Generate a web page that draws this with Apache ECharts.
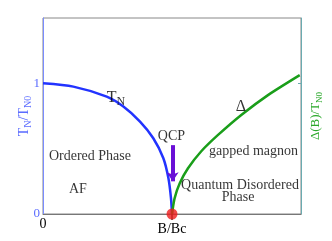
<!DOCTYPE html>
<html><head><meta charset="utf-8">
<script src="https://cdn.jsdelivr.net/npm/echarts@6/dist/echarts.min.js"></script>
<style>html,body{margin:0;padding:0;background:#fff}#c{width:332px;height:241px}</style>
</head><body><div id="c"></div>
<script>
// B/Bc values and T_N/T_N0 along the Neel line
const tnX = [0, 0.235, 0.494, 0.623, 0.752, 0.855, 0.933, 0.972, 0.992, 1.0];
const tnY = [1, 0.975, 0.898, 0.822, 0.707, 0.58, 0.427, 0.275, 0.122, 0];
// B/Bc values and gap Δ(B)/T_N0
const gapX = [1.0, 1.02, 1.06, 1.124, 1.227, 1.357, 1.537, 1.744, 1.99];
const gapY = [0, 0.12, 0.235, 0.35, 0.48, 0.605, 0.758, 0.91, 1.063];
// quantum critical point
const qcp = [1, 0];
// arrow (B/Bc, value) start and end
const arrowFrom = [1.005, 0.527];
const arrowTo = [1.005, 0.25];
// annotations: text and data position
const notes = [
  {t: '{b|T}{s|N}', x: 0.566, y: 0.893},
  {t: '{b|Δ}', x: 1.535, y: 0.817},
  {t: '{q|QCP}', x: 0.996, y: 0.595},
  {t: '{m|Ordered Phase}', x: 0.364, y: 0.443},
  {t: '{m|AF}', x: 0.271, y: 0.19},
  {t: '{m|gapped magnon}', x: 1.632, y: 0.481},
  {t: '{m|Quantum Disordered}', x: 1.527, y: 0.221},
  {t: '{m|Phase}', x: 1.512, y: 0.126}
];
const xTickLabels = {0: '0', 1: 'B/Bc'};
const yTickLabels = {0: '0', 1: '1'};

const serif = '"Liberation Serif", "DejaVu Serif", serif';
const chart = echarts.init(document.getElementById('c'), null, {renderer: 'canvas'});
chart.setOption({
  animation: false,
  grid: {left: 43, right: 31, top: 18, bottom: 27, show: true, borderColor: '#888', borderWidth: 1},
  xAxis: {
    type: 'value', min: 0, max: 2, interval: 1,
    splitLine: {show: false},
    axisLine: {lineStyle: {color: '#777', width: 1}},
    axisTick: {show: true, customValues: [1], length: 6, lineStyle: {color: '#333', width: 1.5}},
    axisLabel: {
      customValues: [0, 1],
      fontFamily: serif,
      formatter: v => v === 0 ? '{z|0}' : '{b|' + xTickLabels[v] + '}',
      rich: {
        z: {fontFamily: serif, fontSize: 14, color: '#000', padding: [0, 0, 0, 0]},
        b: {fontFamily: serif, fontSize: 14, color: '#000', padding: [5, 0, 0, 0]}
      },
      margin: 3
    }
  },
  yAxis: [{
    type: 'value', min: 0, max: 1.5, interval: 0.5,
    splitLine: {show: false},
    axisLine: {show: true, lineStyle: {color: '#7a8cff', width: 1}},
    axisTick: {show: false},
    axisLabel: {
      customValues: [0, 1],
      formatter: v => yTickLabels[v],
      fontFamily: serif, fontSize: 13, color: '#5b6cff', margin: 3
    },
    name: '{m|T}{s|N}{m|/T}{s|N0}',
    nameLocation: 'middle', nameRotate: 90, nameGap: 10, nameMoveOverlap: false,
    nameTextStyle: {
      color: '#5b6cff', fontFamily: serif,
      rich: {
        m: {fontFamily: serif, fontSize: 14, color: '#5b6cff'},
        s: {fontFamily: serif, fontSize: 10, color: '#5b6cff', padding: [8, 0, 0, 0]}
      }
    }
  }, {
    type: 'value', min: 0, max: 1.5, interval: 1, position: 'right',
    splitLine: {show: false},
    axisLine: {show: true, lineStyle: {color: '#6aabb0', width: 1}},
    axisTick: {show: true, inside: true, customValues: [1], length: 3, lineStyle: {color: '#6aabb0'}},
    axisLabel: {show: false},
    name: '{m|Δ(B)/T}{s|N0}',
    nameLocation: 'middle', nameRotate: 90, nameGap: 6, nameMoveOverlap: false,
    nameTextStyle: {
      color: '#2aa82a', fontFamily: serif,
      rich: {
        m: {fontFamily: serif, fontSize: 13, color: '#2aa82a'},
        s: {fontFamily: serif, fontSize: 9, color: '#2aa82a', padding: [8, 0, 0, 0]}
      }
    }
  }],
  series: [
    {
      type: 'line', data: tnX.map((x, i) => [x, tnY[i]]), smooth: 0.25,
      showSymbol: false, lineStyle: {color: '#2233ff', width: 2.5}, z: 3
    },
    {
      type: 'line', data: gapX.map((x, i) => [x, gapY[i]]), smooth: 0.25,
      showSymbol: false, lineStyle: {color: '#1a9e1a', width: 2.5}, z: 3
    },
    {
      type: 'lines', coordinateSystem: 'cartesian2d', z: 4,
      data: [{coords: [arrowFrom, arrowTo]}],
      lineStyle: {color: '#6a0fd6', width: 4, opacity: 1},
      symbol: ['none', 'arrow'], symbolSize: 9
    },
    {
      type: 'scatter', data: [qcp], symbolSize: 11, itemStyle: {color: '#ee1c1c'}, z: 5, clip: false
    },
    {
      type: 'scatter', symbolSize: 0, z: 6, silent: true,
      data: notes.map(n => ({value: [n.x, n.y], t: n.t})),
      label: {
        show: true, position: 'inside', fontFamily: serif, color: '#000',
        formatter: p => p.data.t,
        rich: {
          m: {fontFamily: serif, fontSize: 14, color: '#000'},
          q: {fontFamily: serif, fontSize: 14, color: '#000'},
          b: {fontFamily: serif, fontSize: 16, color: '#000'},
          s: {fontFamily: serif, fontSize: 12, color: '#000', padding: [10, 0, 0, 0]}
        }
      }
    }
  ]
});
</script></body></html>
